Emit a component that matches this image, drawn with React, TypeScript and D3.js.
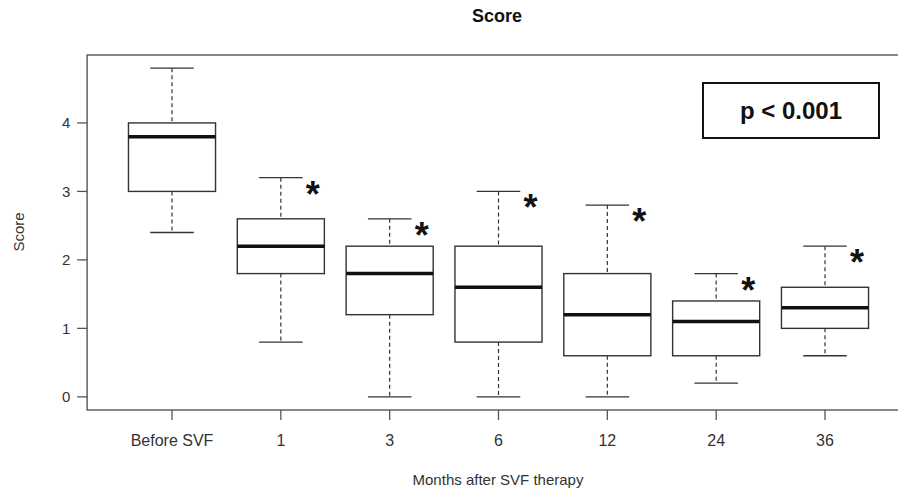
import React from "react";
import * as d3 from "d3";

// categories and box stats
const categories = ["Before SVF", "1", "3", "6", "12", "24", "36"];
const lowerWhisker = [2.4, 0.8, 0, 0, 0, 0.2, 0.6];
const q1 = [3.0, 1.8, 1.2, 0.8, 0.6, 0.6, 1.0];
const medians = [3.8, 2.2, 1.8, 1.6, 1.2, 1.1, 1.3];
const q3 = [4.0, 2.6, 2.2, 2.2, 1.8, 1.4, 1.6];
const upperWhisker = [4.8, 3.2, 2.6, 3.0, 2.8, 1.8, 2.2];
const significant = [false, true, true, true, true, true, true];
const yTicks = [0, 1, 2, 3, 4];

const W = 898;
const H = 489;
const font = "'Liberation Sans', Arial, sans-serif";

const App = () => {
  const x = d3.scaleLinear().domain([1, 7]).range([172, 825]);
  const y = d3.scaleLinear().domain([-0.192, 4.992]).range([410, 55]);
  const left = x(0.22);
  const right = x(7.78);
  const boxHalf = (x(2) - x(1)) * 0.4;
  const capHalf = boxHalf / 2;

  return (
    <div style={{ position: "absolute", left: 0, top: 0, background: "#fff" }}>
      <svg width={W} height={H} style={{ display: "block" }} fontFamily={font}>
        <rect x={0} y={0} width={W} height={H} fill="#fff" />
        <text x={497} y={22} textAnchor="middle" fontSize={18} fontWeight="bold" fill="#111">
          Score
        </text>

        {/* frame */}
        <rect x={left} y={y(4.992)} width={right - left} height={y(-0.192) - y(4.992)}
          fill="none" stroke="#555" strokeWidth={1.4} />

        {/* y axis */}
        {yTicks.map((t) => (
          <g key={t}>
            <line x1={left - 10} x2={left} y1={y(t)} y2={y(t)} stroke="#555" strokeWidth={1.3} />
            <text x={left - 21} y={y(t) + 5.5} textAnchor="middle" fontSize={15} fill="#333">{t}</text>
          </g>
        ))}
        <text transform={`translate(24,232) rotate(-90)`} textAnchor="middle" fontSize={15} fill="#333">
          Score
        </text>

        {/* x axis */}
        {categories.map((c, i) => (
          <g key={c}>
            <line x1={x(i + 1)} x2={x(i + 1)} y1={410} y2={420} stroke="#555" strokeWidth={1.3} />
            <text x={x(i + 1)} y={446} textAnchor="middle" fontSize={16} fill="#333">{c}</text>
          </g>
        ))}
        <text x={498} y={485} textAnchor="middle" fontSize={15} fill="#333">
          Months after SVF therapy
        </text>

        {/* boxes */}
        {categories.map((c, i) => {
          const cx = x(i + 1);
          return (
            <g key={"b" + c} stroke="#333">
              <line x1={cx} x2={cx} y1={y(upperWhisker[i])} y2={y(q3[i])} strokeWidth={1.2} strokeDasharray="4,3" />
              <line x1={cx} x2={cx} y1={y(q1[i])} y2={y(lowerWhisker[i])} strokeWidth={1.2} strokeDasharray="4,3" />
              <line x1={cx - capHalf} x2={cx + capHalf} y1={y(upperWhisker[i])} y2={y(upperWhisker[i])} strokeWidth={1.3} />
              <line x1={cx - capHalf} x2={cx + capHalf} y1={y(lowerWhisker[i])} y2={y(lowerWhisker[i])} strokeWidth={1.3} />
              <rect x={cx - boxHalf} y={y(q3[i])} width={boxHalf * 2} height={y(q1[i]) - y(q3[i])}
                fill="#fff" strokeWidth={1.4} />
              <line x1={cx - boxHalf} x2={cx + boxHalf} y1={y(medians[i])} y2={y(medians[i])}
                stroke="#111" strokeWidth={3.5} />
              {significant[i] && (
                <text x={cx + 32} y={y(upperWhisker[i]) + 29} textAnchor="middle" fontSize={36}
                  fontWeight="bold" fill="#111" stroke="none">*</text>
              )}
            </g>
          );
        })}

        {/* p value */}
        <rect x={703} y={83} width={176} height={55} fill="#fff" stroke="#111" strokeWidth={2} />
        <text x={791} y={119} textAnchor="middle" fontSize={24} fontWeight="bold" fill="#111">
          p &lt; 0.001
        </text>
      </svg>
    </div>
  );
};

export default App;
